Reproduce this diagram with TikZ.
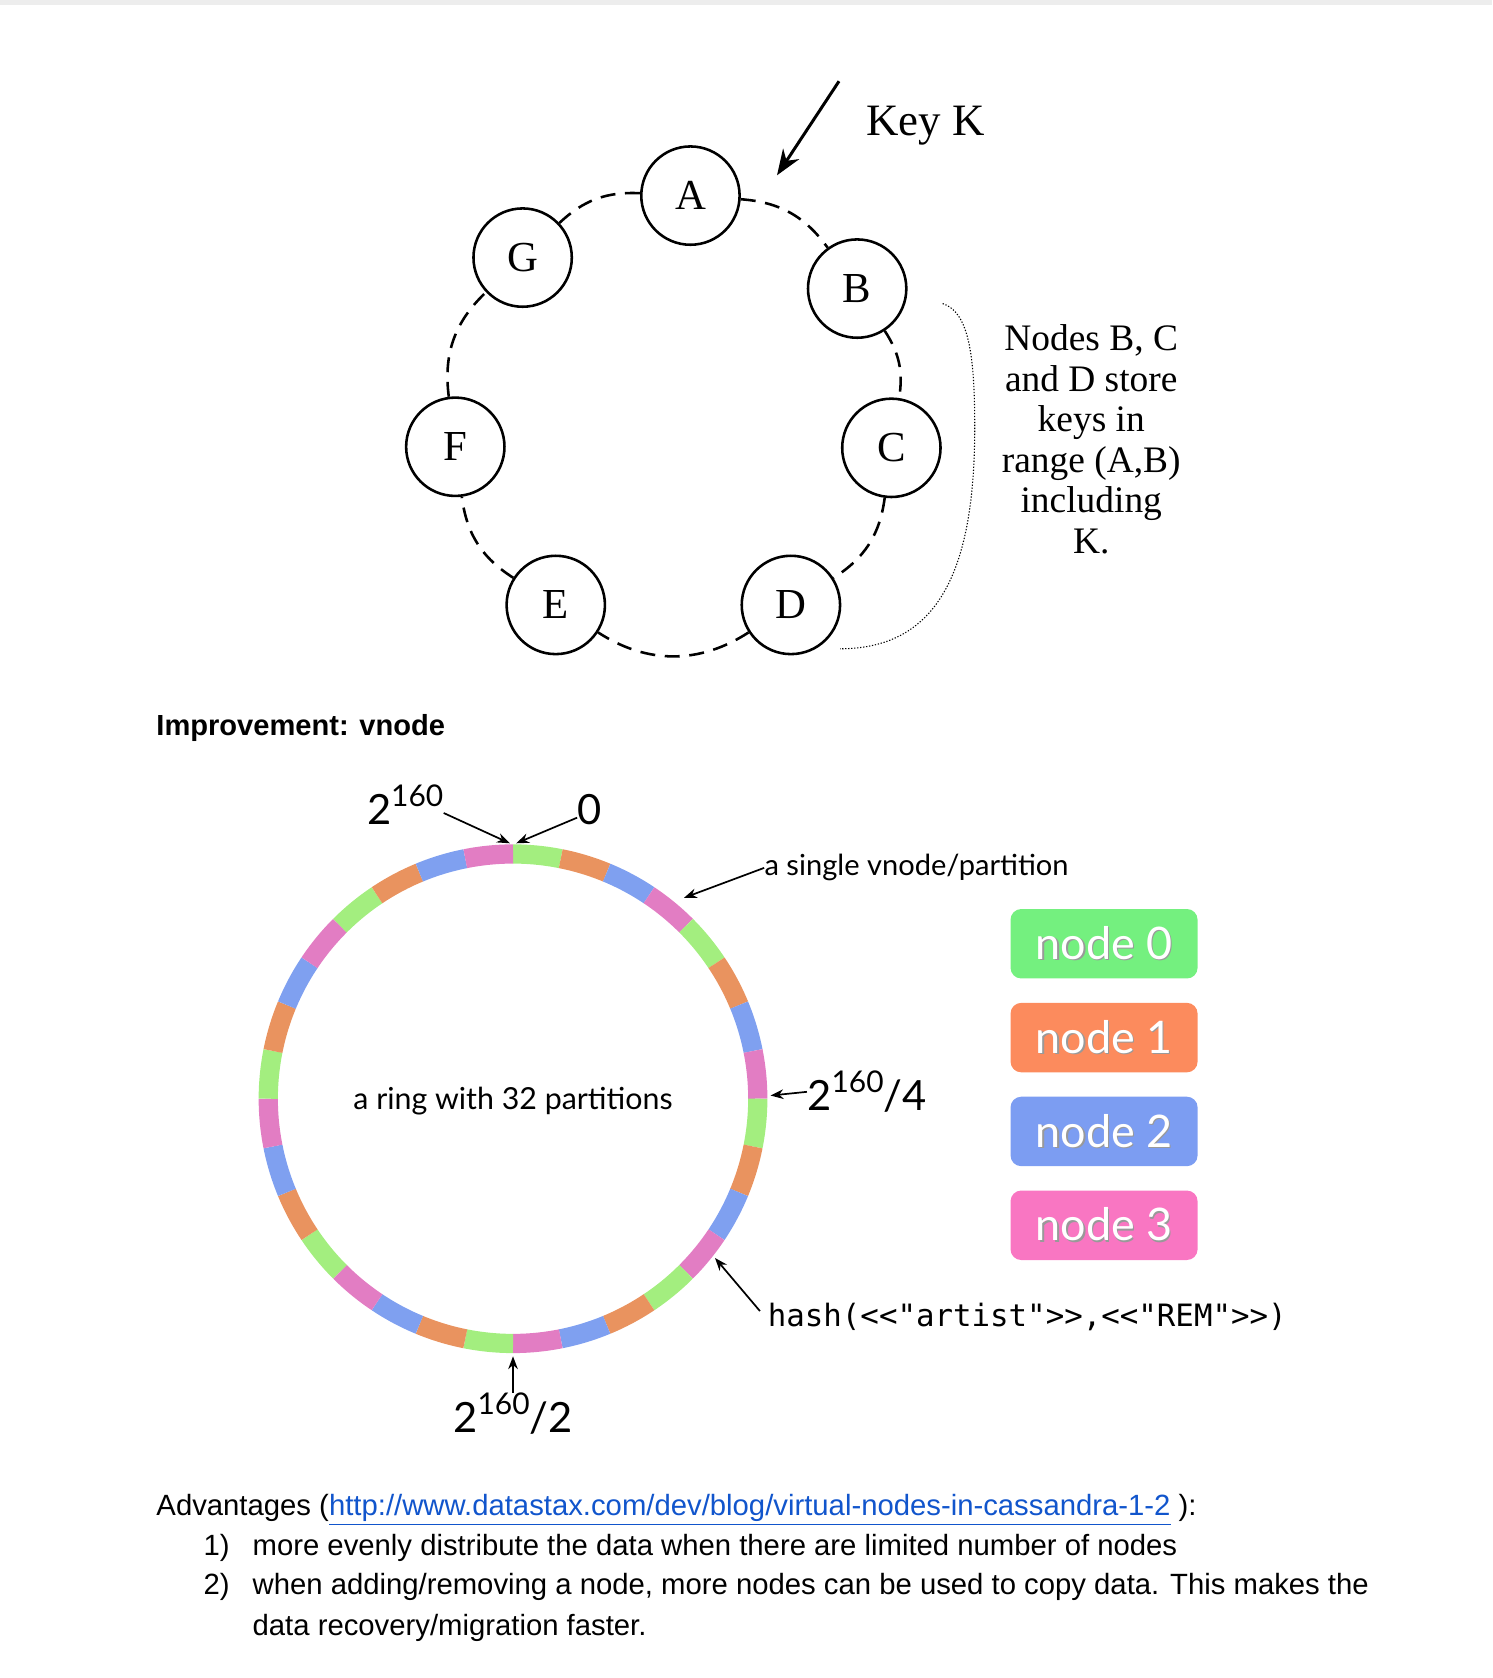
\documentclass[tikz,border=0pt]{standalone}
\usepackage{fontspec}
\setmainfont{Liberation Serif}
\newfontfamily\gillfont{Lato}
\newfontfamily\arialfont{Liberation Sans}
\newfontfamily\monofont{DejaVu Sans Mono}[Ligatures=TeXOff]
\usetikzlibrary{arrows.meta,positioning}

\definecolor{ring0}{HTML}{A3EE7F}
\definecolor{ring1}{HTML}{E9935F}
\definecolor{ring2}{HTML}{7FA0F0}
\definecolor{ring3}{HTML}{E27DC3}
\definecolor{node0}{HTML}{74F07F}
\definecolor{node1}{HTML}{FC8B5D}
\definecolor{node2}{HTML}{7C9DF2}
\definecolor{node3}{HTML}{F976C2}
\definecolor{link}{HTML}{1155CC}

\newcommand\pw[1]{\raisebox{0.42em}{\fontsize{14}{14}\selectfont #1}}
\newcommand\shd[1]{\makebox[0pt][l]{\hspace{0.7pt}\raisebox{-0.7pt}{\textcolor{black!40}{#1}}}#1}

\tikzset{
  member/.style={circle,draw,line width=1.2pt,minimum size=46pt,inner sep=0pt,font=\fontsize{20}{20}\selectfont},
  ringlink/.style={line width=1.2pt,dash pattern=on 7pt off 4.5pt},
  keyarrow/.style={line width=1.4pt,-{Stealth[length=12pt,width=9pt]}},
  ptr/.style={line width=0.8pt,-{Stealth[length=6pt,width=4.5pt]}},
  span/.style={line width=0.5pt,dash pattern=on 0.6pt off 0.8pt},
  legend/.style={rounded corners=5pt,minimum width=87.5pt,minimum height=32.5pt,inner sep=0pt,text=white,font=\gillfont\fontsize{21}{21}\selectfont},
  big/.style={font=\gillfont\fontsize{19.5}{19.5}\selectfont,inner sep=0pt},
  small/.style={font=\gillfont\fontsize{14.2}{14.2}\selectfont,inner sep=0pt},
  body/.style={font=\arialfont\fontsize{13.7}{13.7}\selectfont,inner sep=0pt,anchor=base west}
}

\begin{document}
\begin{tikzpicture}[x=0.5pt,y=0.5pt]
\useasboundingbox (0,0) rectangle (1396,-1570);
\fill[black!7] (0,0) rectangle (1396,-5);

%consistent hashing ring
\node[member] (A) at (646,-183) {A};
\node[member] (B) at (802,-270) {B};
\node[member] (C) at (834,-419) {C};
\node[member] (D) at (740,-566) {D};
\node[member] (E) at (520,-566) {E};
\node[member] (F) at (426,-418) {F};
\node[member] (G) at (489,-241) {G};
\foreach \From/\To/\Bend in {A/B/25,B/C/21,C/D/25,D/E/33,E/F/25,F/G/27,G/A/23}
  \draw[ringlink] (\From) to[bend left=\Bend] (\To);
%key
\coordinate (ktail) at (785,-76);
\coordinate (ktip) at (727,-164);
\draw[keyarrow] (ktail) -- (ktip);
\node[font=\fontsize{21}{21}\selectfont] (keyk) at (866,-118) {Key K};
%replicas
\draw[span] (882,-284) .. controls (906,-292) and (912,-330) .. (912,-400) .. controls (912,-530) and (880,-607) .. (786,-607);
\node[align=center,font=\fontsize{17.5}{19}\selectfont] (range) at (1021,-411) {Nodes B, C\\and D store\\keys in\\range (A,B)\\including\\K.};

%vnodes
\node[font=\arialfont\bfseries\fontsize{13.6}{13.6}\selectfont,anchor=base west,inner sep=0pt] (impr) at (146,-688) {Improvement: vnode};
\foreach \i in {0,...,31}{
  \pgfmathtruncatemacro\k{mod(\i,4)}
  \pgfmathsetmacro\a{90-11.25*\i}
  \draw[ring\k,line width=9pt] ([shift={(480,-1028)}]\a:229) arc[start angle=\a,delta angle=-11.25,radius=229];
}
\node[small] (ringtxt) at (480,-1030) {a ring with 32 partitions};
%ring labels
\coordinate (tipmax) at (477,-789);
\coordinate (tipzero) at (483,-789);
\coordinate (tipq4) at (721,-1025);
\coordinate (tipq2) at (480,-1269);
\coordinate (tipone) at (640,-840);
\coordinate (tiphash) at (669,-1177);
\node[big,anchor=base west] (p160) at (343,-771) {2\pw{160}};
\node[big,anchor=base west] (zero) at (540,-771) {0};
\node[big,anchor=base west] (q4) at (755,-1039) {2\pw{160}/4};
\node[big,anchor=base] (q2) at (480,-1340) {2\pw{160}/2};
\node[small,font=\gillfont\fontsize{13.6}{13.6}\selectfont,anchor=west] (single) at (715,-812) {a single vnode/partition};
\node[font=\monofont\fontsize{14.4}{14.4}\selectfont,inner sep=0pt,anchor=west] (hash) at (718,-1232) {hash(<<"artist">>,<<"REM">>)};
\draw[ptr] ([yshift=-4]p160.east) -- (tipmax);
\draw[ptr] ([yshift=-4]zero.west) -- (tipzero);
\draw[ptr] (q4.west) -- (tipq4);
\draw[ptr] (q2.north) -- (tipq2);
\draw[ptr] (single.west) -- (tipone);
\draw[ptr] ([shift={(-7,-8)}]hash.north west) -- (tiphash);
%legend
\node[legend,fill=node0] (n0) at (1033,-883) {\shd{node 0}};
\node[legend,fill=node1,below=11pt of n0] (n1) {\shd{node 1}};
\node[legend,fill=node2,below=11pt of n1] (n2) {\shd{node 2}};
\node[legend,fill=node3,below=11pt of n2] (n3) {\shd{node 3}};

%advantages
\node[body] (adv) at (146,-1418) {Advantages (\textcolor{link}{\underline{http://www.datastax.com/dev/blog/virtual-nodes-in-cassandra-1-2}} ):};
\node[body] (num1) at (190,-1455) {1)};
\node[body] (adv1) at (236,-1455) {more evenly distribute the data when there are limited number of nodes};
\node[body] (num2) at (190,-1492) {2)};
\node[body] (adv2) at (236,-1492) {when adding/removing a node, more nodes can be used to copy data. This makes the};
\node[body] (adv3) at (236,-1530) {data recovery/migration faster.};
\end{tikzpicture}
\end{document}
